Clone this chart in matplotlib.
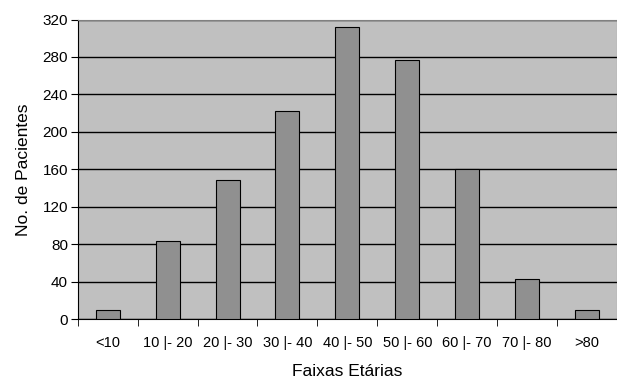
import matplotlib.pyplot as plt
import numpy as np

plt.rcParams['font.family'] = ['Liberation Sans', 'DejaVu Sans']

# Dados
faixas = ['<10', '10 |- 20', '20 |- 30', '30 |- 40', '40 |- 50',
          '50 |- 60', '60 |- 70', '70 |- 80', '>80']
pacientes = [10, 83, 149, 222, 312, 277, 160, 43, 10]
yticks = [0, 40, 80, 120, 160, 200, 240, 280, 320]

fig = plt.figure(figsize=(6.17, 3.83), dpi=100)
ax = fig.add_axes([0.126, 0.167, 0.874, 0.782])

x = np.arange(len(faixas))
ax.set_facecolor('#c0c0c0')
ax.yaxis.grid(True, color='black', linewidth=1)
ax.set_axisbelow(True)
ax.bar(x, pacientes, width=0.4, color='#909090', edgecolor='black', linewidth=0.8, zorder=3)

ax.set_xlim(-0.5, len(faixas) - 0.5)
ax.set_ylim(0, 320)
ax.set_yticks(yticks)
ax.set_xticks(x)
ax.set_xticklabels(faixas)
ax.set_xticks(np.arange(len(faixas)) - 0.5, minor=True)
ax.tick_params(axis='x', which='major', length=0, pad=12, labelsize=10.5)
ax.tick_params(axis='x', which='minor', length=5, color='black')
ax.tick_params(axis='y', length=5, labelsize=11, pad=2)

for s in ['top', 'right']:
    ax.spines[s].set_color('#808080')
ax.spines['left'].set_color('black')
ax.spines['bottom'].set_color('black')

ax.set_xlabel('Faixas Etárias', fontsize=12.5, labelpad=10)
ax.set_ylabel('No. de Pacientes', fontsize=12.5, labelpad=8)

plt.savefig('out.png', dpi=100)
